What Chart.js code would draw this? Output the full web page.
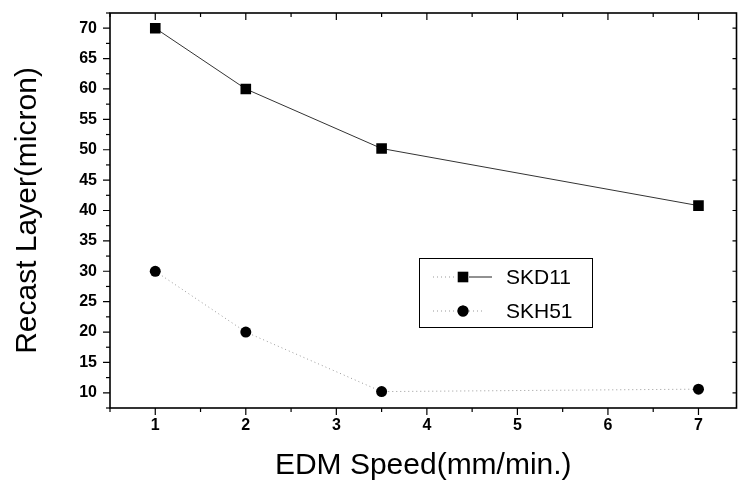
<!DOCTYPE html>
<html>
<head>
<meta charset="utf-8">
<script src="https://cdn.jsdelivr.net/npm/chart.js@4"></script>
<style>
  html, body { margin: 0; padding: 0; background: #fff; overflow: hidden; }
  #wrap { width: 744px; height: 487px; }
</style>
</head>
<body>
<div id="wrap"><canvas id="recastChart"></canvas></div>
<script>
// Datos
const speeds = [1, 2, 3.5, 7];
const skd11 = [70, 60, 50.2, 40.8];
const skh51 = [30, 20, 10.2, 10.6];
const xTicks = [1, 2, 3, 4, 5, 6, 7];
const yTicks = [10, 15, 20, 25, 30, 35, 40, 45, 50, 55, 60, 65, 70];

const negro = '#000';
const fuente = '"Liberation Sans", Arial, sans-serif';

// Marco con ticks estilo Origin (afuera abajo/izquierda, adentro arriba/derecha)
const marcoPlugin = {
  id: 'marco',
  afterDraw(chart) {
    const { ctx, chartArea: a, scales: { x, y } } = chart;
    ctx.save();
    ctx.strokeStyle = negro;
    ctx.lineWidth = 1.2;
    for (let v = 0.5; v <= 7.5; v += 0.5) {
      const px = x.getPixelForValue(v);
      if (px < a.left || px > a.right) continue;
      const largo = Number.isInteger(v) ? 7 : 4;
      ctx.beginPath();
      ctx.moveTo(px, a.bottom); ctx.lineTo(px, a.bottom + largo);
      ctx.moveTo(px, a.top); ctx.lineTo(px, a.top + largo);
      ctx.stroke();
    }
    for (let v = 7.5; v <= 72.5; v += 2.5) {
      const py = y.getPixelForValue(v);
      if (py < a.top || py > a.bottom) continue;
      const mayor = v % 5 === 0;
      const largo = mayor ? 7 : 4;
      ctx.beginPath();
      ctx.moveTo(a.left, py); ctx.lineTo(a.left - largo, py);
      if (mayor) { ctx.moveTo(a.right, py); ctx.lineTo(a.right - 4, py); }
      ctx.stroke();
    }
    ctx.lineWidth = 1.6;
    ctx.strokeRect(a.left, a.top, a.right - a.left, a.bottom - a.top);
    ctx.restore();
  }
};

// Leyenda dentro del area del grafico
const leyendaPlugin = {
  id: 'leyenda',
  afterDraw(chart) {
    const { ctx } = chart;
    const caja = { x: 419, y: 258, w: 173, h: 69 };
    ctx.save();
    ctx.fillStyle = '#fff';
    ctx.fillRect(caja.x, caja.y, caja.w, caja.h);
    ctx.strokeStyle = negro;
    ctx.lineWidth = 1;
    ctx.strokeRect(caja.x + 0.5, caja.y + 0.5, caja.w, caja.h);
    chart.data.datasets.forEach((ds, i) => {
      const cy = caja.y + 19 + i * 34;
      const cx = 463;
      ctx.strokeStyle = '#999';
      ctx.lineWidth = 1;
      ctx.setLineDash([1, 3]);
      ctx.beginPath();
      ctx.moveTo(433, cy); ctx.lineTo(cx - 6, cy);
      if (i === 1) { ctx.moveTo(cx + 6, cy); ctx.lineTo(482, cy); }
      ctx.stroke();
      ctx.setLineDash([]);
      if (i === 0) {
        ctx.strokeStyle = '#222';
        ctx.beginPath();
        ctx.moveTo(cx + 6, cy); ctx.lineTo(492, cy);
        ctx.stroke();
      }
      Chart.helpers.drawPoint(ctx, {
        pointStyle: ds.pointStyle, radius: ds.pointRadius, borderWidth: 0, rotation: 0
      }, cx, cy);
      ctx.fillStyle = negro;
      ctx.fill();
      ctx.font = '21px ' + fuente;
      ctx.textBaseline = 'middle';
      ctx.fillText(ds.label, 506, cy + 1);
    });
    ctx.restore();
  }
};

new Chart(document.getElementById('recastChart'), {
  type: 'line',
  data: {
    datasets: [
      {
        label: 'SKD11',
        data: speeds.map((s, i) => ({ x: s, y: skd11[i] })),
        borderColor: '#333',
        borderWidth: 1,
        pointStyle: 'rect',
        pointRadius: 7.5,
        pointBackgroundColor: negro,
        pointBorderWidth: 0,
        tension: 0
      },
      {
        label: 'SKH51',
        data: speeds.map((s, i) => ({ x: s, y: skh51[i] })),
        borderColor: '#999',
        borderWidth: 1,
        borderDash: [1, 3],
        pointStyle: 'circle',
        pointRadius: 5.5,
        pointBackgroundColor: negro,
        pointBorderWidth: 0,
        tension: 0
      }
    ]
  },
  options: {
    responsive: true,
    maintainAspectRatio: false,
    animation: false,
    layout: { padding: { top: 13, right: 1, left: 0, bottom: 0 } },
    plugins: {
      legend: { display: false },
      tooltip: { enabled: false }
    },
    scales: {
      x: {
        type: 'linear',
        min: 0.5,
        max: 7.42,
        afterBuildTicks: s => { s.ticks = xTicks.map(v => ({ value: v })); },
        afterFit: s => { s.height = 79; s.paddingLeft = 0; s.paddingRight = 0; },
        grid: { display: false },
        border: { display: false },
        ticks: { color: negro, padding: 0, font: { family: fuente, size: 16, weight: 'bold' } },
        title: {
          display: true,
          text: 'EDM Speed(mm/min.)',
          color: negro,
          font: { family: fuente, size: 30 },
          padding: { top: 0, bottom: 3 }
        }
      },
      y: {
        min: 7.5,
        max: 72.5,
        afterBuildTicks: s => { s.ticks = yTicks.map(v => ({ value: v })); },
        afterFit: s => { s.width = 110; s.paddingTop = 0; s.paddingBottom = 0; },
        grid: { display: false },
        border: { display: false },
        ticks: { color: negro, padding: 5, font: { family: fuente, size: 16, weight: 'bold' } },
        title: {
          display: true,
          text: 'Recast Layer(micron)',
          color: negro,
          font: { family: fuente, size: 30 },
          padding: { top: 10, bottom: 0 }
        }
      }
    }
  },
  plugins: [marcoPlugin, leyendaPlugin]
});
</script>
</body>
</html>
